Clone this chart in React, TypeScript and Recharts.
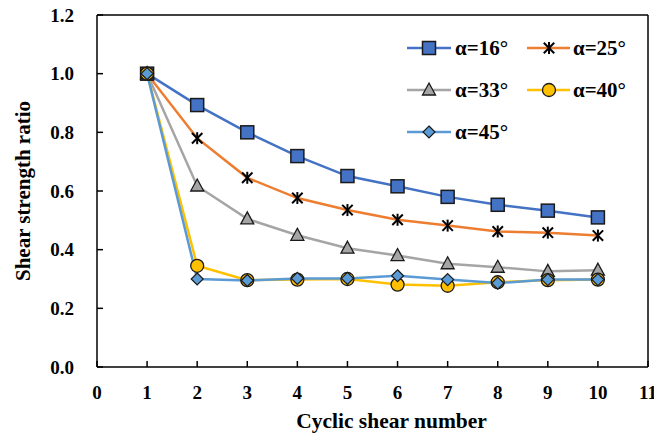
import { CartesianGrid, Line, LineChart, ReferenceLine, XAxis, YAxis } from "recharts";

const cycles = [1, 2, 3, 4, 5, 6, 7, 8, 9, 10];
const alpha16 = [1.0, 0.893, 0.8, 0.719, 0.651, 0.616, 0.58, 0.553, 0.533, 0.51];
const alpha25 = [1.0, 0.78, 0.645, 0.576, 0.535, 0.502, 0.482, 0.462, 0.458, 0.448];
const alpha33 = [1.0, 0.617, 0.505, 0.449, 0.405, 0.38, 0.352, 0.34, 0.326, 0.33];
const alpha40 = [1.0, 0.345, 0.296, 0.298, 0.3, 0.281, 0.277, 0.289, 0.296, 0.298];
const alpha45 = [1.0, 0.3, 0.295, 0.302, 0.302, 0.311, 0.298, 0.286, 0.298, 0.298];
const xTicks = [0, 1, 2, 3, 4, 5, 6, 7, 8, 9, 10, 11];
const yTicks = [0, 0.2, 0.4, 0.6, 0.8, 1.0, 1.2];

const data = cycles.map((c, i) => ({
  cycle: c,
  a16: alpha16[i],
  a25: alpha25[i],
  a33: alpha33[i],
  a40: alpha40[i],
  a45: alpha45[i],
}));

const font = "'Liberation Serif', 'Times New Roman', serif";
const edge = "#1a1a1a";

type MarkerKind = "square" | "star" | "triangle" | "circle" | "diamond";

const Marker = ({ kind, cx, cy, fill }: { kind: MarkerKind; cx: number; cy: number; fill: string }) => {
  if (kind === "square") {
    return <rect x={cx - 6.5} y={cy - 6.5} width={13} height={13} fill={fill} stroke={edge} strokeWidth={1.5} />;
  }
  if (kind === "star") {
    const r = 6;
    const d = r * 0.87;
    return (
      <g stroke="#000" strokeWidth={2}>
        <line x1={cx} y1={cy - r} x2={cx} y2={cy + r} />
        <line x1={cx - d} y1={cy - d} x2={cx + d} y2={cy + d} />
        <line x1={cx - d} y1={cy + d} x2={cx + d} y2={cy - d} />
      </g>
    );
  }
  if (kind === "triangle") {
    return (
      <polygon
        points={`${cx},${cy - 7} ${cx + 6.5},${cy + 5} ${cx - 6.5},${cy + 5}`}
        fill={fill}
        stroke={edge}
        strokeWidth={1.3}
      />
    );
  }
  if (kind === "circle") {
    return <circle cx={cx} cy={cy} r={6.5} fill={fill} stroke={edge} strokeWidth={1.3} />;
  }
  return (
    <polygon
      points={`${cx},${cy - 6} ${cx + 6},${cy} ${cx},${cy + 6} ${cx - 6},${cy}`}
      fill={fill}
      stroke={edge}
      strokeWidth={1.2}
    />
  );
};

const series = [
  { key: "a16", name: "α=16°", color: "#4472C4", marker: "square" as MarkerKind, fill: "#4472C4" },
  { key: "a25", name: "α=25°", color: "#ED7D31", marker: "star" as MarkerKind, fill: "#000" },
  { key: "a33", name: "α=33°", color: "#A5A5A5", marker: "triangle" as MarkerKind, fill: "#A5A5A5" },
  { key: "a40", name: "α=40°", color: "#FFC000", marker: "circle" as MarkerKind, fill: "#FFC000" },
  { key: "a45", name: "α=45°", color: "#5B9BD5", marker: "diamond" as MarkerKind, fill: "#5B9BD5" },
];

// legend sits inside the plot, top right, two columns
const LegendBox = () => (
  <div
    style={{
      position: "absolute",
      left: 406,
      top: 33,
      display: "grid",
      gridTemplateColumns: "120px 100px",
      rowGap: 12,
      fontFamily: font,
    }}
  >
    {series.map((s) => (
      <div key={s.key} style={{ display: "flex", alignItems: "center", height: 30 }}>
        <svg width={46} height={20}>
          <line x1={1} y1={10} x2={45} y2={10} stroke={s.color} strokeWidth={2.5} />
          <Marker kind={s.marker} cx={23} cy={10} fill={s.fill} />
        </svg>
        <span style={{ fontSize: 21, fontWeight: "bold", marginLeft: 3, color: "#000", lineHeight: "30px" }}>
          {s.name}
        </span>
      </div>
    ))}
  </div>
);

export default function App() {
  return (
    <div style={{ position: "absolute", left: 0, top: 0, width: 654, height: 437, background: "#fff" }}>
      <LineChart width={654} height={437} data={data} margin={{ top: 15, right: 6, bottom: 0, left: 0 }}>
        <CartesianGrid stroke="none" />
        <XAxis
          dataKey="cycle"
          type="number"
          domain={[0, 11]}
          ticks={xTicks}
          interval={0}
          height={70}
          stroke="#000"
          strokeWidth={1.5}
          tickSize={-6}
          tickMargin={25}
          tick={{ fill: "#000", fontSize: 19, fontWeight: "bold", fontFamily: font }}
          label={{
            value: "Cyclic shear number",
            position: "center",
            dx: 19,
            dy: 18,
            fill: "#000",
            fontSize: 21.5,
            fontWeight: "bold",
            fontFamily: font,
          }}
        />
        <YAxis
          type="number"
          domain={[0, 1.2]}
          ticks={yTicks}
          interval={0}
          width={97}
          stroke="#000"
          strokeWidth={1.5}
          tickSize={-6}
          tickMargin={29}
          tickFormatter={(v: number) => v.toFixed(1)}
          tick={{ fill: "#000", fontSize: 19, fontWeight: "bold", fontFamily: font }}
          label={{
            value: "Shear strength ratio",
            angle: -90,
            position: "center",
            dx: -26,
            fill: "#000",
            fontSize: 21,
            fontWeight: "bold",
            fontFamily: font,
          }}
        />
        <ReferenceLine y={1.2} stroke="#000" strokeWidth={1.5} />
        <ReferenceLine x={11} stroke="#000" strokeWidth={1.5} />
        {series.map((s) => (
          <Line
            key={s.key}
            type="linear"
            dataKey={s.key}
            name={s.name}
            stroke={s.color}
            strokeWidth={2.5}
            isAnimationActive={false}
            dot={(p: any) => (
              <Marker key={`${s.key}-${p.index}`} kind={s.marker} cx={p.cx} cy={p.cy} fill={s.fill} />
            )}
            activeDot={false}
          />
        ))}
      </LineChart>
      <LegendBox />
    </div>
  );
}
